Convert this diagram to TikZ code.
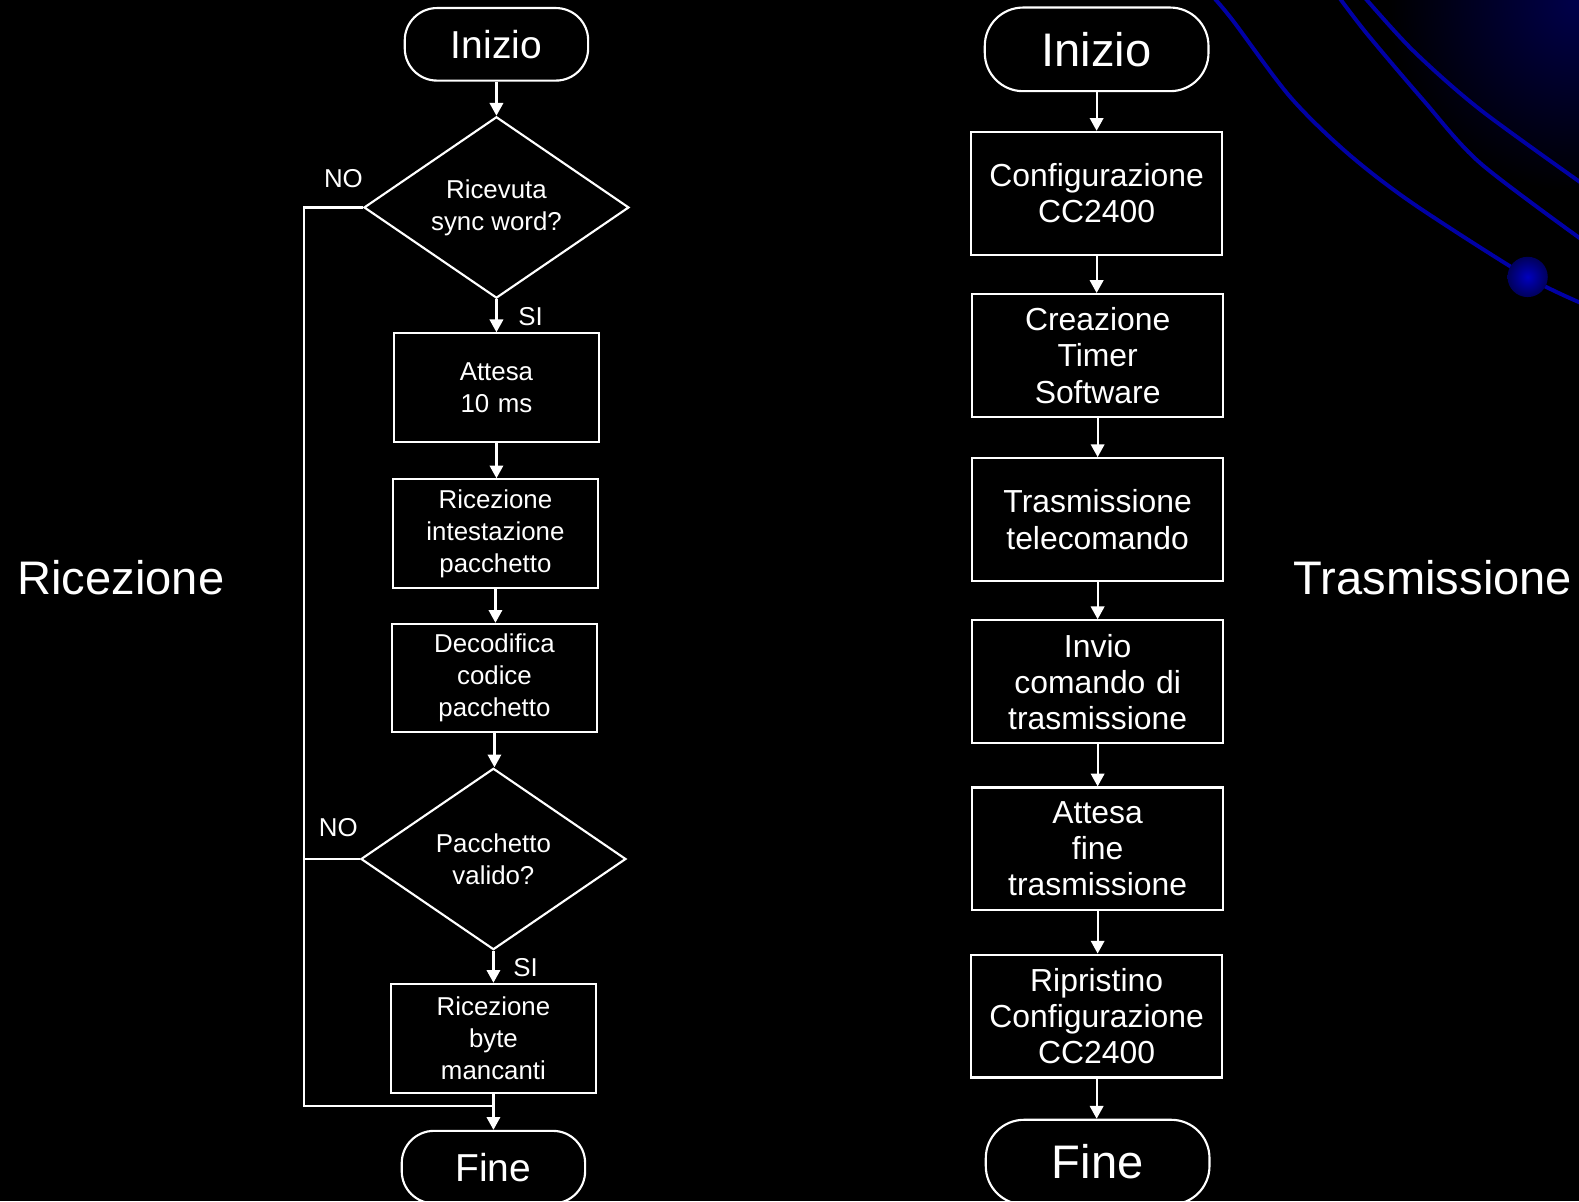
\documentclass[tikz,border=0pt]{standalone}
\usepackage{fontspec}
\setmainfont{Liberation Sans}
\usetikzlibrary{shapes.geometric,arrows.meta,positioning}
\definecolor{deco}{RGB}{0,0,165}
\definecolor{glow}{RGB}{0,0,75}

\begin{document}
\begin{tikzpicture}[x=0.01cm, y=-0.01cm, line width=0.6pt, white,
		>={Triangle[length=3.6pt,width=3.8pt]},
		txtL/.style={font=\fontsize{7.3}{9.1}\selectfont},
		txtR/.style={font=\fontsize{9}{10.2}\selectfont},
		termL/.style={draw, rectangle, rounded corners=0.32cm, minimum width=1.82cm, minimum height=0.72cm, font=\fontsize{11}{13}\selectfont},
		termR/.style={draw, rectangle, rounded corners=0.38cm, minimum width=2.22cm, minimum height=0.83cm, font=\fontsize{13.3}{15}\selectfont},
		boxL/.style={draw, rectangle, minimum width=2.03cm, minimum height=1.08cm, text width=1.95cm, align=center, inner sep=0pt, txtL},
		boxR/.style={draw, rectangle, minimum width=2.49cm, minimum height=1.22cm, text width=2.4cm, align=center, inner sep=0pt, txtR},
		decL/.style={draw, diamond, aspect=1.46, minimum width=2.63cm, minimum height=1.8cm, inner sep=0pt, align=center, txtL},
		side/.style={font=\fontsize{13.3}{15}\selectfont}]
	\useasboundingbox (0,0) rectangle (1568,1193);
	\fill[black] (0,0) rectangle (1568,1193);
	
	% Background decoration
	\begin{scope}
		\clip (0,0) rectangle (1568,1193);
		\shade[inner color=glow, outer color=black] (1568,0) circle (190);
		\draw[deco, line width=1.1pt] plot[smooth] coordinates {(1203,-5) (1224,20) (1281,96) (1338,152) (1403,202) (1517,275) (1575,303)};
		\draw[deco, line width=1.1pt] plot[smooth] coordinates {(1328,-5) (1357,33) (1413,99) (1470,162) (1575,241)};
		\draw[deco, line width=1.1pt] plot[smooth] coordinates {(1353,-5) (1403,50) (1470,109) (1575,185)};
		\shade[inner color=blue!75!black, outer color=deco!55!black] (1517,275) circle (20);
	\end{scope}
	
	% Ricezione
	\node[termL] (startL) at (493,44) {Inizio};
	\node[decL] (syncq) at (493,206) {Ricevuta\\sync word?};
	\node[boxL] (wait) at (493,385) {Attesa\\10 ms};
	\node[boxL] (header) at (492,530) {Ricezione\\intestazione\\pacchetto};
	\node[boxL, minimum height=1.07cm] (decode) at (491,673) {Decodifica\\codice\\pacchetto};
	\node[decL] (validq) at (490,853) {Pacchetto\\valido?};
	\node[boxL] (bytes) at (490,1031) {Ricezione\\byte\\mancanti};
	\node[termL] (endL) at (490,1159) {Fine};
	
	\node[txtL] (noA) at (341,177) {NO};
	\node[txtL] (siA) at (527,314) {SI};
	\node[txtL] (noB) at (336,822) {NO};
	\node[txtL] (siB) at (522,961) {SI};
	
	\draw[->] (startL) -- (syncq);
	\draw[->] (syncq) -- (wait);
	\draw[->] (wait.south) -- (wait.south |- header.north);
	\draw[->] (header.south) -- (header.south |- decode.north);
	\draw[->] (decode.south) -- (decode.south |- validq.north);
	\draw[->] (validq) -- (bytes);
	\draw[->] (bytes) -- (endL);
	
	\coordinate (loop) at (302,1098);
	\draw (syncq.west) -| (loop) -- (loop -| endL);
	\draw (validq.west) -- (validq.west -| loop);
	
	\node[side] (rxlabel) at (120,574) {Ricezione};
	
	% Trasmissione
	\node[termR] (startR) at (1089,49) {Inizio};
	\node[boxR] (config) at (1089,192) {Configurazione\\CC2400};
	\node[boxR] (timer) at (1090,353) {Creazione\\Timer\\Software};
	\node[boxR] (remote) at (1090,516) {Trasmissione\\telecomando};
	\node[boxR] (send) at (1090,677) {Invio\\comando di\\trasmissione};
	\node[boxR] (waitend) at (1090,843) {Attesa\\fine\\trasmissione};
	\node[boxR] (restore) at (1089,1009) {Ripristino\\Configurazione\\CC2400};
	\node[termR, minimum height=0.84cm] (endR) at (1090,1154) {Fine};
	
	\draw[->] (startR) -- (config);
	\draw[->] (config.south) -- (config.south |- timer.north);
	\draw[->] (timer) -- (remote);
	\draw[->] (remote) -- (send);
	\draw[->] (send) -- (waitend);
	\draw[->] (waitend.south) -- (waitend.south |- restore.north);
	\draw[->] (restore.south) -- (restore.south |- endR.north);
	
	\node[side] (txlabel) at (1423,574) {Trasmissione};
\end{tikzpicture}
\end{document}
